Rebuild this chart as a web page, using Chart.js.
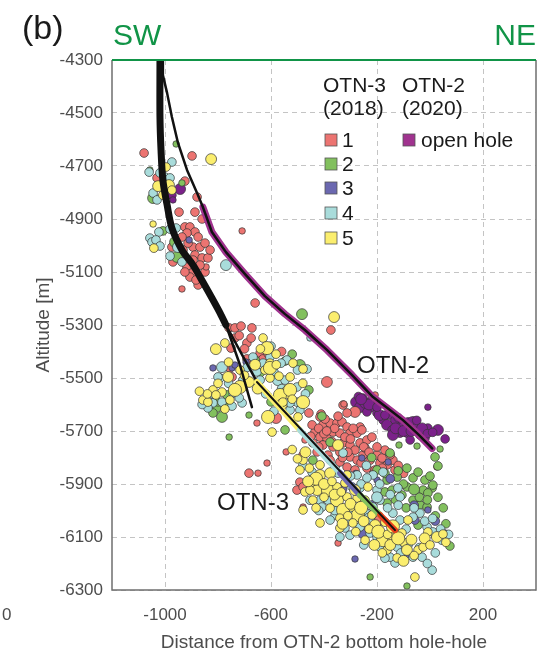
<!DOCTYPE html>
<html>
<head>
<meta charset="utf-8">
<script src="https://cdn.jsdelivr.net/npm/chart.js@4.4.1/dist/chart.umd.min.js"></script>
<style>
  html, body { margin: 0; padding: 0; background: #ffffff; }
  canvas { display: block; }
</style>
</head>
<body>
<canvas id="sectionChart" width="557" height="654"></canvas>
<script>
// Axis ticks
const distanceTicks = [-1000, -600, -200, 200];
const distanceRange = [-1200, 400];
const altitudeRange = [-6300, -4300];
const altitudeStep = 200;

// Legend labels
const stageLabels = ["1", "2", "3", "4", "5"];

// Well trajectories [distance, altitude] in m
const otn3Cased = [[-1019, -4300], [-1019, -4515], [-1015, -4640], [-1008, -4753], [-992, -4847], [-974, -4934],
  [-936, -5017], [-894, -5074], [-857, -5138], [-823, -5198], [-792, -5255], [-770, -5300]];
const otn3Link = [[-770, -5300], [-709, -5413], [-653, -5515]];
const otn3Sidetrack = [[-770, -5300], [-717, -5451], [-672, -5610]];
const otn3OpenHole = [[-653, -5515], [-132, -6074]];
// stimulated intervals along the open hole
const stage5Interval = [[-653, -5515], [-491, -5696]];
const stage4Interval = [[-491, -5696], [-339, -5859]];
const stage3Interval = [[-339, -5859], [-264, -5942]];
const stage2Interval = [[-264, -5942], [-188, -6017]];
const stage1Interval = [[-188, -6017], [-132, -6074]];

const otn2Trajectory = [[-1008, -4300], [-1008, -4357], [-992, -4425], [-974, -4515], [-951, -4613], [-917, -4715],
  [-879, -4802], [-857, -4855], [-823, -4949], [-770, -5025], [-698, -5108], [-623, -5191], [-547, -5259],
  [-472, -5319], [-389, -5394], [-294, -5489], [-215, -5572], [-151, -5621], [-102, -5659], [-45, -5712], [8, -5766]];
const otn2OpenHole = otn2Trajectory.slice(7);

// Induced seismicity [distance, altitude, magnitude]
const stage1Events = [
  [-1079, -4651, 0.8], [-898, -4662, 0.8], [-1030, -4745, 0.8], [-925, -4757, 0.8], [-879, -4817, 0.8], [-947, -4874, 0.8],
  [-887, -4874, 0.8], [-860, -4900, 0.8], [-925, -4930, 0.8], [-906, -4930, 0.8], [-887, -4949, 0.8], [-917, -4953, 0.8],
  [-875, -4968, 0.8], [-936, -4968, 0.8], [-974, -5006, 0.8], [-932, -5017, 0.8], [-894, -5006, 0.8], [-868, -5006, 0.8],
  [-887, -5036, 0.8], [-849, -4991, 0.8], [-860, -5047, 0.8], [-838, -5047, 0.8], [-970, -5062, 0.8], [-917, -5081, 0.8],
  [-898, -5104, 0.8], [-906, -5119, 0.8], [-849, -5100, 0.8], [-845, -5081, 0.3], [-875, -5149, 0.8], [-936, -5164, 0.3],
  [-709, -4945, 0.3], [-913, -4991, 0.8], [-894, -5055, 0.8], [-868, -5074, 0.8], [-925, -5100, 0.8], [-883, -5130, 0.8],
  [-830, -5017, 0.8], [-943, -5025, 0.8],
  [-660, -5217, 0.8], [-374, -5319, 0.8], [-758, -5311, 0.8], [-736, -5311, 0.8], [-713, -5304, 0.8], [-672, -5311, 0.8],
  [-736, -5349, 0.8], [-691, -5368, 0.8], [-675, -5349, 0.8], [-751, -5387, 0.8], [-641, -5406, 0.8], [-691, -5428, 0.8],
  [-630, -5428, 0.8], [-755, -5462, 0.8], [-747, -5496, 0.8], [-581, -5651, 1.3], [-389, -5515, 1.3], [-457, -5632, 0.8],
  [-653, -5670, 0.3], [-328, -5602, 0.8], [-283, -5628, 1.3], [-207, -5564, 0.3], [-411, -5636, 0.8], [-543, -5779, 0.3],
  [-615, -5821, 0.3], [-683, -5859, 0.8], [-649, -5859, 0.3], [-491, -5893, 0.8], [-502, -5923, 0.8], [-479, -5987, 0.3],
  [-347, -6123, 0.3], [-460, -5911, 0.8],
  [-700, -5390, 0.8], [-610, -5410, 0.8], [-720, -5340, 0.8], [-560, -5400, 0.8], [-670, -5440, 0.8],
  [-415, -5647, 0.8], [-404, -5677, 0.8], [-377, -5670, 0.8], [-351, -5670, 0.8], [-332, -5666, 0.8], [-313, -5685, 0.8],
  [-366, -5704, 0.8], [-340, -5708, 0.8], [-434, -5704, 0.8], [-415, -5723, 0.8], [-389, -5727, 0.8], [-302, -5708, 0.8],
  [-275, -5708, 0.8], [-264, -5685, 0.8], [-442, -5745, 0.8], [-404, -5753, 0.8], [-366, -5760, 0.8], [-328, -5745, 0.8],
  [-302, -5753, 0.8], [-264, -5745, 0.8], [-238, -5734, 0.8], [-219, -5723, 0.8], [-426, -5779, 0.8], [-385, -5791, 0.8],
  [-302, -5798, 0.8], [-275, -5810, 0.8], [-253, -5791, 0.8], [-226, -5810, 0.8], [-200, -5791, 0.8], [-140, -5810, 0.8],
  [-189, -5821, 0.8], [-162, -5828, 0.8], [-479, -5791, 0.8], [-358, -5836, 0.8], [-132, -5847, 0.8], [-181, -5802, 0.8],
  [26, -5836, 0.3], [-313, -5836, 0.8], [-283, -5847, 0.8], [-479, -5911, 0.8], [0, -5874, 0.3], [-325, -5598, 0.3],
  [-313, -5632, 0.8], [-257, -5696, 0.8], [-396, -5655, 0.8], [-347, -5644, 0.8], [-321, -5723, 0.8], [-283, -5772, 0.8],
  [-245, -5764, 0.8], [-445, -5677, 0.8], [-472, -5734, 0.3], [-377, -5810, 0.8], [-340, -5817, 0.8], [-238, -5840, 0.8],
  [-170, -5772, 0.8], [-207, -5847, 0.8], [-189, -6036, 1.3],
  [-420, -5690, 0.8], [-360, -5690, 0.8], [-300, -5730, 0.8], [-250, -5760, 0.8], [-200, -5760, 0.8], [-340, -5780, 0.8],
  [-310, -5780, 0.8], [-260, -5820, 0.8], [-230, -5780, 0.8], [-150, -5790, 0.8], [-120, -5830, 0.8], [-100, -5860, 0.8],
  [-400, -5710, 0.8], [-450, -5720, 0.8], [-290, -5690, 0.8], [-370, -5740, 0.8], [-420, -5760, 0.8], [-390, -5700, 0.8],
  [-330, -5800, 0.8], [-180, -5840, 0.8]
];
const stage2Events = [
  [-958, -4617, 0.3], [-1057, -4715, 0.3], [-936, -4764, 0.3], [-1045, -4821, 1.3], [-1008, -4945, 0.8], [-962, -4987, 1.3],
  [-955, -5043, 1.3], [-483, -5259, 1.3], [-660, -5432, 0.8], [-547, -5436, 0.8], [-491, -5451, 1.3], [-457, -5545, 0.8],
  [-766, -5564, 0.8], [-804, -5613, 0.8], [-785, -5647, 1.3], [-819, -5632, 0.8], [-683, -5640, 0.3], [-547, -5696, 0.8],
  [-758, -5723, 0.3], [-408, -5644, 0.8], [-377, -5742, 0.8], [-151, -5783, 0.8], [-442, -5810, 0.8], [-200, -5847, 0.8],
  [-87, -5840, 0.8], [-64, -5877, 0.8], [-124, -5874, 0.8], [-162, -5885, 0.8], [19, -5798, 0.8], [30, -5832, 0.8],
  [-170, -5930, 0.8], [-143, -5923, 0.8], [-87, -5911, 0.8], [-64, -5961, 0.8], [-38, -5979, 0.8], [-11, -5987, 0.8],
  [-26, -5923, 0.8], [8, -5915, 0.8], [11, -5904, 0.8], [-8, -5934, 0.8], [-162, -5972, 0.8], [-45, -6055, 0.8],
  [75, -6134, 0.8], [-226, -6251, 0.3], [-87, -6285, 0.3], [-117, -5753, 0.3], [-49, -5757, 0.3], [38, -5768, 0.3],
  [-45, -5855, 0.8], [-19, -5885, 0.8], [-106, -5942, 0.8],
  [-800, -5590, 0.8], [-770, -5610, 0.8], [-640, -5480, 0.8], [-520, -5410, 0.8], [-600, -5590, 0.8],
  [-100, -5900, 0.8], [-40, -5950, 0.8], [-60, -5920, 1.3], [-130, -5960, 0.8], [-10, -5960, 0.8], [30, -5950, 0.8],
  [50, -5990, 0.8], [-120, -5850, 0.8], [-220, -5800, 0.8], [-170, -5860, 0.8], [20, -6020, 0.8], [60, -6050, 0.8],
  [-90, -5990, 0.8], [0, -5870, 0.8]
];
const stage3Events = [
  [-909, -4979, 0.3], [-819, -5462, 0.3], [-747, -5462, 0.3], [-694, -5440, 0.3], [-736, -5451, 0.3], [-257, -5802, 0.3],
  [-158, -5817, 0.3], [-200, -5885, 0.3], [-8, -5998, 0.3], [-396, -5942, 0.8], [-253, -6085, 1.3], [-94, -6168, 0.8],
  [-283, -6183, 0.3], [-219, -5979, 0.8], [-57, -6036, 0.8], [57, -6085, 0.3],
  [-330, -5920, 0.8], [-150, -5880, 0.8], [-60, -5980, 0.8], [20, -6040, 0.8], [-280, -5860, 0.3]
];
const stage4Events = [
  [-1060, -4723, 0.8], [-974, -4685, 0.8], [-1019, -4726, 0.8], [-1000, -4742, 0.8], [-981, -4745, 0.8], [-1045, -4802, 0.8],
  [-1030, -4828, 0.8], [-981, -4938, 0.8], [-1023, -4949, 0.8], [-1057, -4972, 0.8], [-1049, -4987, 0.8], [-1034, -4979, 0.8],
  [-1019, -5002, 0.8], [-951, -5006, 1.3], [-936, -5062, 0.8], [-981, -5040, 0.8], [-770, -5074, 1.3], [-958, -4934, 0.8],
  [-453, -5349, 0.3], [-785, -5459, 1.3], [-792, -5500, 0.8], [-706, -5508, 0.8], [-574, -5508, 1.3], [-464, -5466, 0.8],
  [-630, -5444, 0.8], [-540, -5432, 0.8], [-589, -5625, 0.8], [-668, -5421, 0.8], [-604, -5421, 0.8], [-562, -5444, 0.8],
  [-653, -5477, 0.8], [-589, -5477, 0.8], [-800, -5496, 0.8], [-679, -5515, 0.8], [-641, -5508, 0.8], [-547, -5508, 0.8],
  [-502, -5534, 0.8], [-743, -5557, 0.8], [-838, -5572, 0.8], [-785, -5591, 0.8], [-709, -5594, 0.8], [-819, -5594, 0.8],
  [-747, -5606, 0.8], [-838, -5613, 0.8], [-502, -5591, 0.8], [-528, -5621, 0.8], [-491, -5621, 0.8],
  [-860, -5600, 0.8], [-820, -5560, 0.8], [-760, -5520, 0.8], [-720, -5575, 0.8], [-620, -5560, 0.8], [-560, -5540, 0.8],
  [-500, -5470, 0.8], [-470, -5560, 0.8], [-690, -5460, 0.8], [-600, -5380, 0.8],
  [-528, -5594, 0.8], [-328, -5783, 0.8], [-177, -5855, 0.8], [-215, -5866, 0.8], [-445, -5855, 0.8], [-347, -5859, 0.8],
  [-275, -5866, 0.8], [-238, -5877, 0.8], [-404, -5896, 0.8], [-294, -5911, 0.8], [-264, -5915, 0.8], [-200, -5923, 0.8],
  [-121, -5915, 0.8], [-113, -5949, 0.8], [-38, -6010, 0.8], [-415, -5961, 0.8], [-385, -5961, 0.8], [-189, -5961, 0.8],
  [-215, -5987, 0.8], [-408, -5987, 0.8], [-245, -6006, 0.8], [-140, -6010, 0.8], [-113, -6036, 0.8], [-64, -6025, 0.8],
  [-11, -6062, 0.8], [11, -6081, 0.8], [45, -6112, 0.8], [-358, -6017, 0.8], [-313, -6036, 0.8], [-264, -6062, 0.8],
  [-226, -6085, 0.8], [-200, -6100, 0.8], [-124, -6138, 0.8], [-64, -6176, 0.8], [-30, -6176, 0.8], [8, -6225, 0.8],
  [-132, -6198, 0.8], [-151, -6176, 0.8], [-189, -6138, 0.8], [-453, -5961, 0.8], [-377, -6036, 0.8], [-302, -6093, 0.8],
  [-321, -6066, 0.8], [-83, -6130, 0.8],
  [-480, -5830, 0.8], [-440, -5920, 0.8], [-420, -6000, 0.8], [-360, -6000, 0.8], [-340, -6100, 0.8], [-290, -6010, 0.8],
  [-250, -6130, 0.8], [-230, -6030, 1.3], [-170, -6180, 0.8], [-110, -6160, 0.8], [-40, -6140, 0.8], [20, -6160, 0.8],
  [40, -6070, 0.8], [-10, -6200, 0.8], [-90, -6070, 0.8], [-160, -5990, 0.8], [-260, -5900, 0.8], [-300, -5870, 0.8],
  [-200, -5950, 1.3], [-120, -5980, 0.8], [-60, -5990, 0.8], [-20, -6040, 0.8], [10, -6030, 0.8], [70, -6090, 0.8],
  [-150, -5940, 0.8], [-240, -5830, 0.8], [-190, -5900, 0.8]
];
const stage5Events = [
  [-826, -4674, 1.3], [-996, -4704, 0.8], [-1026, -4776, 1.3], [-985, -4772, 1.3], [-974, -4791, 0.8], [-1008, -4810, 0.8],
  [-1045, -4919, 0.3], [-1042, -5010, 0.8],
  [-362, -5270, 1.3], [-808, -5391, 1.3], [-774, -5368, 0.8], [-630, -5349, 0.8], [-615, -5387, 1.8], [-581, -5410, 0.8],
  [-604, -5444, 0.8], [-517, -5444, 0.8], [-479, -5466, 0.8], [-717, -5470, 0.8], [-623, -5470, 0.8], [-570, -5493, 0.8],
  [-762, -5496, 1.3], [-683, -5515, 1.3], [-604, -5500, 0.8], [-528, -5496, 0.8], [-536, -5553, 1.8], [-717, -5534, 1.8],
  [-785, -5553, 0.8], [-819, -5545, 0.8], [-808, -5564, 0.8], [-857, -5583, 0.8], [-838, -5591, 0.8], [-755, -5583, 0.8],
  [-774, -5617, 0.8], [-611, -5647, 1.8], [-596, -5704, 0.8], [-479, -5591, 1.8], [-498, -5647, 0.8], [-604, -5462, 1.8],
  [-566, -5564, 1.8], [-528, -5545, 1.8], [-736, -5545, 1.8],
  [-840, -5560, 0.8], [-800, -5520, 0.8], [-650, -5540, 1.3], [-560, -5600, 1.3], [-520, -5580, 0.8], [-700, -5490, 0.8],
  [-660, -5450, 1.3], [-580, -5450, 0.8], [-480, -5520, 0.8], [-760, -5440, 0.8], [-640, -5390, 0.8], [-870, -5550, 0.8],
  [-555, -5591, 0.8], [-347, -5753, 1.3], [-479, -5810, 0.8], [-415, -5828, 0.8], [-415, -5866, 1.3], [-377, -5859, 1.3],
  [-313, -5866, 0.8], [-445, -5893, 0.8], [-426, -5923, 1.3], [-385, -5923, 1.8], [-351, -5911, 0.8], [-321, -5896, 0.8],
  [-234, -5911, 0.8], [-442, -5961, 0.8], [-351, -5961, 1.8], [-313, -5949, 0.8], [-275, -5953, 0.8], [-245, -5961, 0.8],
  [-377, -5991, 0.8], [-328, -5998, 1.8], [-294, -5987, 0.8], [-272, -6017, 1.8], [-219, -6017, 0.8], [-170, -6044, 0.8],
  [-83, -6036, 0.8], [-8, -6081, 0.8], [26, -6100, 1.3], [49, -6089, 0.8], [-340, -6029, 0.8], [-291, -6047, 0.8],
  [-177, -6112, 1.8], [-140, -6104, 1.3], [-106, -6085, 0.8], [-102, -6119, 0.8], [-87, -6149, 1.3], [-45, -6149, 0.8],
  [-26, -6138, 0.8], [-124, -6179, 0.8], [-162, -6149, 0.8], [-340, -6066, 0.8], [-415, -6047, 0.8], [-57, -6251, 0.8],
  [-479, -5998, 0.8], [-472, -5930, 0.8], [-491, -5847, 0.8], [-453, -5923, 0.8], [-283, -5923, 1.3], [-207, -6055, 1.3],
  [-245, -6112, 0.8],
  [-470, -5780, 1.3], [-455, -5840, 0.8], [-430, -5880, 1.8], [-400, -5900, 1.3], [-370, -5890, 0.8], [-360, -5940, 1.3],
  [-335, -5930, 0.8], [-300, -5975, 1.3], [-310, -6020, 0.8], [-260, -5990, 1.8], [-250, -6040, 1.3], [-230, -6070, 0.8],
  [-195, -6080, 1.8], [-160, -6090, 0.8], [-150, -6130, 1.3], [-120, -6105, 1.8], [-70, -6110, 1.3], [-60, -6170, 0.8],
  [-20, -6105, 1.3], [0, -6130, 0.8], [-180, -6160, 0.8], [-100, -6190, 1.3], [-400, -5950, 0.8], [-430, -5990, 0.8],
  [-460, -5890, 1.3], [-500, -5805, 0.8], [-330, -6050, 1.3], [-280, -6080, 0.8], [-210, -6130, 1.3], [-140, -6060, 1.8],
  [60, -6120, 0.8], [-520, -5770, 0.8]
];
const otn2Events = [
  [-279, -5591, 1.3], [-264, -5610, 1.3], [-245, -5594, 1.3], [-226, -5613, 0.8], [-238, -5628, 0.8], [-200, -5632, 0.8],
  [-253, -5576, 0.8], [-219, -5583, 0.8], [-177, -5659, 0.8], [-162, -5677, 1.3], [-143, -5696, 0.8], [-124, -5670, 0.8],
  [-106, -5685, 0.8], [-83, -5670, 1.3], [-64, -5670, 1.8], [-49, -5689, 1.3], [-87, -5708, 0.8], [-113, -5708, 0.8],
  [-140, -5715, 1.3], [-38, -5715, 0.8], [-19, -5727, 0.8], [-8, -5689, 0.8], [30, -5696, 1.3], [57, -5730, 0.8],
  [-8, -5610, 0.3], [-75, -5734, 0.8], [-151, -5640, 0.8], [-132, -5659, 0.8],
  [-270, -5570, 0.8], [-230, -5600, 1.3], [-190, -5640, 1.3], [-170, -5640, 0.8], [-130, -5690, 1.3], [-100, -5700, 1.3],
  [-70, -5700, 1.3], [-50, -5660, 0.8], [-30, -5690, 1.3], [-10, -5710, 0.8], [10, -5705, 0.8], [-120, -5650, 0.8],
  [-260, -5580, 1.3], [-200, -5610, 0.8],
  [-943, -4787, 1.3], [-974, -4810, 0.8], [-970, -4828, 0.3]
];

// Colours
const GREEN = "#119447";
const STAGE_COLORS = ["#ec7471", "#82c05e", "#6b68b0", "#a9dcdb", "#fbee6e"];
const OPEN_HOLE_COLOR = "#a0338f";
const OTN2_EVENT_COLOR = "#7b218a";
const FONT = "'Liberation Sans', Arial, Helvetica, sans-serif";

const toXY = pts => pts.map(([x, y]) => ({ x, y }));
const toEvents = pts => pts.map(([x, y, m]) => ({ x, y, m }));
// symbol radius grows with magnitude
const eventRadius = ctx => (ctx.raw ? 2.6 + 2.2 * ctx.raw.m : 3);

function traceDataset(pts, color, width, tension) {
  return {
    data: toXY(pts), showLine: true, borderColor: color, backgroundColor: color,
    borderWidth: width, pointRadius: 0, pointHoverRadius: 0, tension: tension || 0,
    borderCapStyle: "round", borderJoinStyle: "round"
  };
}

function eventDataset(pts, color) {
  return {
    data: toEvents(pts), backgroundColor: color, borderColor: "#353535", borderWidth: 0.7,
    pointRadius: eventRadius, pointHoverRadius: eventRadius
  };
}

// Frame, header and in-plot annotations
const frameAndLabels = {
  id: "frameAndLabels",
  afterDraw(chart) {
    const { ctx, chartArea: a } = chart;
    const text = (str, x, y, size, color, align) => {
      ctx.font = size + "px " + FONT;
      ctx.fillStyle = color;
      ctx.textAlign = align || "left";
      ctx.textBaseline = "middle";
      ctx.fillText(str, x, y);
    };
    ctx.save();
    ctx.lineWidth = 1.5;
    ctx.strokeStyle = "#6f6f6f";
    ctx.beginPath();
    ctx.moveTo(a.left, a.top);
    ctx.lineTo(a.left, a.bottom);
    ctx.lineTo(a.right, a.bottom);
    ctx.lineTo(a.right, a.top);
    ctx.stroke();
    ctx.lineWidth = 2;
    ctx.strokeStyle = GREEN;
    ctx.beginPath();
    ctx.moveTo(a.left, a.top);
    ctx.lineTo(a.right, a.top);
    ctx.stroke();

    text("(b)", 22, 30, 34, "#1a1a1a");
    text("SW", a.left + 1, 37, 30, GREEN);
    text("NE", a.right, 37, 30, GREEN, "right");

    // legend
    text("OTN-3", 323, 86, 21, "#1a1a1a");
    text("(2018)", 323, 109, 21, "#1a1a1a");
    text("OTN-2", 402, 86, 21, "#1a1a1a");
    text("(2020)", 402, 109, 21, "#1a1a1a");
    const rows = [140, 164, 188, 213, 238];
    ctx.lineWidth = 0.8;
    ctx.strokeStyle = "#555555";
    stageLabels.forEach((lab, i) => {
      ctx.fillStyle = STAGE_COLORS[i];
      ctx.fillRect(325, rows[i] - 6, 12, 12);
      ctx.strokeRect(325, rows[i] - 6, 12, 12);
      text(lab, 342, rows[i] + 1, 21, "#1a1a1a");
    });
    ctx.fillStyle = OPEN_HOLE_COLOR;
    ctx.fillRect(403, rows[0] - 6, 12, 12);
    ctx.strokeRect(403, rows[0] - 6, 12, 12);
    text("open hole", 421, rows[0] + 1, 21, "#1a1a1a");

    text("OTN-2", 357, 366, 24, "#1a1a1a");
    text("OTN-3", 217, 503, 24, "#1a1a1a");
    // edge tick of the neighbouring panel
    text("0", 2, 615, 17, "#4d4d4d");
    ctx.restore();
  }
};

const datasets = [
  traceDataset(otn3OpenHole, "#111111", 2),
  traceDataset(stage1Interval, "#e8401c", 6),
  traceDataset(stage2Interval, STAGE_COLORS[1], 6),
  traceDataset(stage3Interval, STAGE_COLORS[2], 6),
  traceDataset(stage4Interval, STAGE_COLORS[3], 6),
  traceDataset(stage5Interval, STAGE_COLORS[4], 6),
  traceDataset(otn3Link, "#111111", 2.5),
  traceDataset(otn3Sidetrack, "#111111", 2.5),
  traceDataset(otn3Cased, "#111111", 7, 0.3),
  traceDataset(otn2Trajectory, "#111111", 2.5),
  traceDataset(otn2OpenHole, OPEN_HOLE_COLOR, 7),
  eventDataset(stage5Events, STAGE_COLORS[4]),
  eventDataset(stage4Events, STAGE_COLORS[3]),
  eventDataset(stage3Events, STAGE_COLORS[2]),
  eventDataset(stage2Events, STAGE_COLORS[1]),
  eventDataset(stage1Events, STAGE_COLORS[0]),
  eventDataset(otn2Events, OTN2_EVENT_COLOR)
];

const tickFont = { family: FONT, size: 17 };
const titleFont = { family: FONT, size: 19 };

new Chart(document.getElementById("sectionChart").getContext("2d"), {
  type: "scatter",
  data: { datasets },
  options: {
    responsive: false,
    animation: false,
    devicePixelRatio: 1,
    events: [],
    layout: { padding: { top: 60, right: 21, left: 0, bottom: 0 } },
    plugins: { legend: { display: false }, tooltip: { enabled: false } },
    scales: {
      x: {
        type: "linear",
        min: distanceRange[0],
        max: distanceRange[1],
        afterBuildTicks: s => { s.ticks = distanceTicks.map(v => ({ value: v })); },
        afterFit: s => { s.height = 64; },
        grid: { color: "#c4c4c4", lineWidth: 1, drawTicks: false },
        border: { display: false, dash: [5, 4] },
        ticks: { padding: 15, color: "#4d4d4d", font: tickFont, maxRotation: 0, autoSkip: false, callback: v => String(v) },
        title: { display: true, text: "Distance from OTN-2 bottom hole-hole", color: "#4d4d4d", font: titleFont, padding: { top: 0, bottom: 0 } }
      },
      y: {
        type: "linear",
        min: altitudeRange[0],
        max: altitudeRange[1],
        afterFit: s => { s.width = 112; },
        grid: { color: "#c4c4c4", lineWidth: 1, drawTicks: false },
        border: { display: false, dash: [5, 4] },
        ticks: { stepSize: altitudeStep, padding: 9, color: "#4d4d4d", font: tickFont, callback: v => String(v) },
        title: { display: true, text: "Altitude [m]", color: "#4d4d4d", font: titleFont, padding: { top: 32, bottom: 0 } }
      }
    }
  },
  plugins: [frameAndLabels]
});
</script>
</body>
</html>
